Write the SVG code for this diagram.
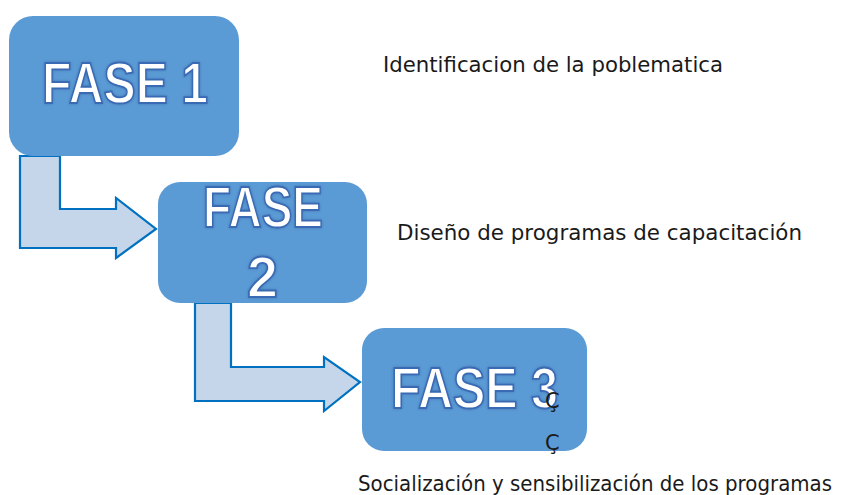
<svg xmlns="http://www.w3.org/2000/svg" width="848" height="495" viewBox="0 0 848 495">
<defs>
<style>
.box{fill:#5B9BD5;}
.arrow{fill:#C5D5EA;stroke:#0070C0;stroke-width:2.2;stroke-linejoin:miter;}
.fase{font-family:"Liberation Sans",Arial,sans-serif;font-size:57px;font-weight:bold;fill:#FFFFFF;stroke:#3A6BB5;stroke-width:1.8;}
.lbl{font-family:"DejaVu Sans","Liberation Sans",sans-serif;font-size:21px;fill:#1a1a1a;}
.c{font-family:"DejaVu Sans","Liberation Sans",sans-serif;font-size:21px;fill:#1a1a1a;}
</style>
<filter id="glow" x="-10%" y="-10%" width="120%" height="120%">
<feGaussianBlur in="SourceAlpha" stdDeviation="1.5" result="b"/>
<feFlood flood-color="#2F5597" flood-opacity="0.5"/>
<feComposite in2="b" operator="in" result="s"/>
<feMerge><feMergeNode in="s"/><feMergeNode in="SourceGraphic"/></feMerge>
</filter>
</defs>
<g id="connectors">
<path class="arrow" d="M20,156 L20,248 L116,248 L116,258 L156,229 L116,198 L116,209 L60,209 L60,156 Z"/>
<path class="arrow" d="M195,303 L195,401 L324,401 L324,411 L360,382 L324,357 L324,367 L231,367 L231,303 Z"/>
</g>
<g id="fase1">
<rect class="box" x="9" y="16" width="230" height="140" rx="24"/>
<text class="fase" x="42" y="103" textLength="166" lengthAdjust="spacingAndGlyphs" filter="url(#glow)">FASE 1</text>
</g>
<g id="fase2">
<rect class="box" x="158" y="182" width="209" height="121" rx="22"/>
<text class="fase" x="203" y="227" textLength="120" lengthAdjust="spacingAndGlyphs" filter="url(#glow)">FASE</text>
<text class="fase" x="247" y="297" textLength="31" lengthAdjust="spacingAndGlyphs" filter="url(#glow)">2</text>
</g>
<g id="fase3">
<rect class="box" x="362" y="328" width="225" height="123" rx="22"/>
<text class="fase" x="391" y="408" textLength="167" lengthAdjust="spacingAndGlyphs" filter="url(#glow)">FASE 3</text>
<text class="c" x="545" y="408">Ç</text>
<text class="c" x="545" y="450">Ç</text>
</g>
<g id="labels">
<text class="lbl" x="383" y="72" textLength="340" lengthAdjust="spacingAndGlyphs">Identificacion de la poblematica</text>
<text class="lbl" x="397" y="240" textLength="405" lengthAdjust="spacingAndGlyphs">Diseño de programas de capacitación</text>
<text class="lbl" x="358" y="491" textLength="474" lengthAdjust="spacingAndGlyphs">Socialización y sensibilización de los programas</text>
</g>
</svg>
